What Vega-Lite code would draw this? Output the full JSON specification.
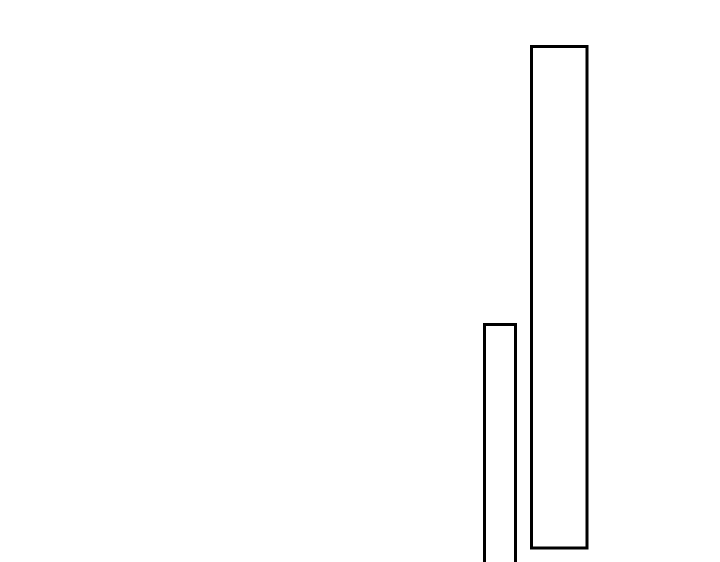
{
  "$schema": "https://vega.github.io/schema/vega-lite/v6.json",
  "width": 720,
  "height": 562,
  "autosize": {"type": "none"},
  "padding": 0,
  "config": {"view": {"stroke": null}},
  "data": {"values": [
    {"name": "A", "x0": 484.5, "x1": 515.5, "y0": -10, "y1": 237.5},
    {"name": "B", "x0": 531.5, "x1": 587, "y0": 14, "y1": 515.5}
  ]},
  "mark": {"type": "rect", "fill": null, "fillOpacity": 0, "stroke": "#000000", "strokeWidth": 3, "clip": true},
  "encoding": {
    "x": {"field": "x0", "type": "quantitative", "scale": {"domain": [0, 720], "nice": false, "zero": false}, "axis": null},
    "x2": {"field": "x1"},
    "y": {"field": "y0", "type": "quantitative", "scale": {"domain": [0, 562], "nice": false, "zero": false}, "axis": null},
    "y2": {"field": "y1"}
  }
}
